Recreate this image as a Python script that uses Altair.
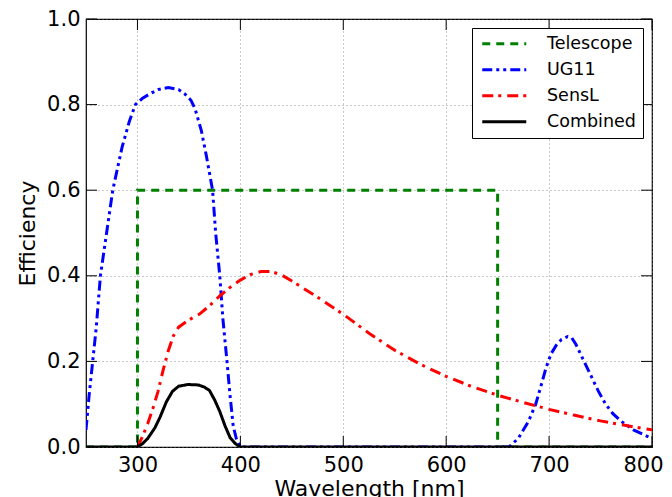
import altair as alt
import pandas as pd

# ---- data ----
names = ["Telescope", "UG11", "SensL", "Combined"]
colors = ["#008000", "#0000ff", "#ff0000", "#000000"]
dashes = [[8, 6], [10, 4, 3, 4, 3, 4], [11, 5, 3, 6], [1, 0]]

tel_wl = [250, 300, 300, 650, 650, 800]
tel_eff = [0, 0, 0.6, 0.6, 0, 0]

ug_wl = [250, 253, 256.5, 260, 264, 270, 276, 285, 292, 298, 305, 312, 320, 330,
         340, 346, 352, 356, 362, 367, 373, 376, 380, 383, 387, 390, 393, 396, 400,
         661, 670, 680, 687, 693, 697, 702, 707, 712, 718, 722, 726, 732, 740, 748,
         755, 762, 770, 782, 800]
ug_eff = [0.04, 0.12, 0.2, 0.28, 0.4, 0.5, 0.6, 0.7, 0.76, 0.8, 0.815, 0.825, 0.835, 0.84,
          0.835, 0.825, 0.81, 0.79, 0.74, 0.68, 0.6, 0.5, 0.4, 0.3, 0.2, 0.12, 0.05, 0.02, 0.0,
          0.0, 0.02, 0.06, 0.1, 0.15, 0.185, 0.218, 0.238, 0.251, 0.258, 0.255, 0.24, 0.21, 0.17,
          0.13, 0.1, 0.078, 0.06, 0.04, 0.02]

sens_wl = [300, 305, 310, 315, 320, 325, 330, 335, 340, 350, 360, 370, 380, 390, 400,
           410, 420, 430, 440, 450, 475, 500, 525, 550, 575, 600, 625, 650, 675, 700,
           725, 750, 775, 800]
sens_eff = [0, 0.025, 0.055, 0.09, 0.13, 0.18, 0.225, 0.26, 0.28, 0.297, 0.31, 0.33, 0.353,
            0.373, 0.39, 0.403, 0.41, 0.41, 0.402, 0.388, 0.35, 0.31, 0.266, 0.226, 0.193,
            0.165, 0.141, 0.121, 0.104, 0.088, 0.074, 0.061, 0.05, 0.04]

comb_wl = [250, 300, 305, 310, 317, 322, 328, 334, 340, 349, 359, 365, 370, 375, 380,
           385, 390, 395, 400, 800]
comb_eff = [0, 0, 0.008, 0.02, 0.045, 0.07, 0.105, 0.13, 0.142, 0.146, 0.145, 0.14, 0.132,
            0.11, 0.083, 0.05, 0.022, 0.008, 0, 0]

x_ticks = [300, 400, 500, 600, 700, 800]
y_ticks = [0.0, 0.2, 0.4, 0.6, 0.8, 1.0]

W, H = 566, 428
TICK = 11

rows = []
for name, wl, eff in [("Telescope", tel_wl, tel_eff), ("UG11", ug_wl, ug_eff),
                      ("SensL", sens_wl, sens_eff), ("Combined", comb_wl, comb_eff)]:
    for i, (a, b) in enumerate(zip(wl, eff)):
        rows.append({"series": name, "wl": a, "eff": b, "idx": i})
df = pd.DataFrame(rows)

xscale = alt.Scale(domain=[250, 800], nice=False, zero=False)
yscale = alt.Scale(domain=[0, 1], nice=False)

xaxis = alt.Axis(values=x_ticks, title="Wavelength [nm]", titleX=W / 2, titleY=48,
                 titleBaseline="alphabetic", labelFlush=False,
                 labelOffset={"condition": {"test": "datum.value == 800", "value": -9}, "value": 0})
yaxis = alt.Axis(values=y_ticks, format=".1f", title="Efficiency", titleX=-52, titleY=H / 2,
                 titleBaseline="alphabetic", labelFlush=False)

def series_layer(name):
    return alt.Chart(df).transform_filter(alt.datum.series == name).mark_line(
        strokeWidth=3, strokeCap="butt", clip=True
    ).encode(
        x=alt.X("wl:Q", scale=xscale, axis=xaxis),
        y=alt.Y("eff:Q", scale=yscale, axis=yaxis),
        color=alt.Color("series:N", scale=alt.Scale(domain=names, range=colors), title=None),
        strokeDash=alt.StrokeDash("series:N", scale=alt.Scale(domain=names, range=dashes), title=None),
        order="idx:Q",
    )

xt = pd.DataFrame({"t": x_ticks})
yt = pd.DataFrame({"t": y_ticks})
tick_style = dict(color="black", strokeWidth=1)
ticks = [
    alt.Chart(xt).mark_rule(**tick_style).encode(x=alt.X("t:Q", scale=xscale), y=alt.value(0), y2=alt.value(TICK)),
    alt.Chart(xt).mark_rule(**tick_style).encode(x=alt.X("t:Q", scale=xscale), y=alt.value(H), y2=alt.value(H - TICK)),
    alt.Chart(yt).mark_rule(**tick_style).encode(y=alt.Y("t:Q", scale=yscale), x=alt.value(0), x2=alt.value(TICK)),
    alt.Chart(yt).mark_rule(**tick_style).encode(y=alt.Y("t:Q", scale=yscale), x=alt.value(W), x2=alt.value(W - TICK)),
]

chart = alt.layer(*[series_layer(n) for n in names], *ticks).properties(
    width=W, height=H,
    autosize=alt.AutoSizeParams(type="none"),
    padding={"left": 78, "top": 11, "right": 12, "bottom": 50},
).configure_view(
    stroke="black", strokeWidth=1.2
).configure_axis(
    labelFont="DejaVu Sans", titleFont="DejaVu Sans",
    labelFontSize=21, titleFontSize=22, titleFontWeight="normal",
    labelColor="black", titleColor="black",
    ticks=False, domain=False, grid=True,
    gridColor="#777777", gridDash=[1, 3], gridWidth=0.8,
    labelPadding=7,
).configure_axisY(labelPadding=6).configure_legend(
    orient="top-right", offset=9, padding=7, rowPadding=7,
    symbolType="M-4.4,0H4.4", symbolSize=100, symbolStrokeWidth=3,
    symbolOffset=16.5, labelOffset=34, labelFontSize=17.5, labelFont="DejaVu Sans",
    labelColor="black", strokeColor="black", fillColor="white", cornerRadius=0,
    labelLimit=300,
)

chart.save("out.html", embed_options={"renderer": "svg", "actions": False})
